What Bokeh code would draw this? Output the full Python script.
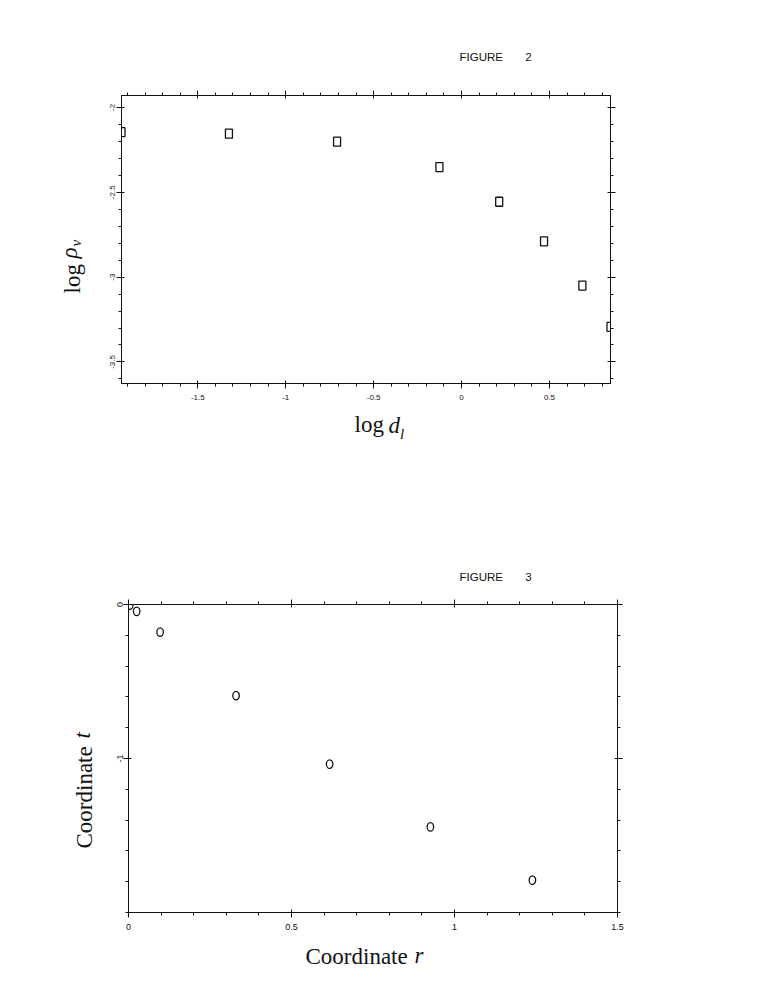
import math
from bokeh.plotting import figure
from bokeh.models import (Range1d, FixedTicker, LinearAxis, Title, Label,
                          CustomJSTickFormatter, ColumnDataSource)
from bokeh.embed import file_html
from bokeh.resources import INLINE

# ---------------- data: FIGURE 2 ----------------
log_dl = [-1.934, -1.323, -0.708, -0.126, 0.214, 0.469, 0.687, 0.847]
log_rho_v = [-2.146, -2.155, -2.202, -2.352, -2.556, -2.789, -3.050, -3.293]
fig2_x_ticks = [-1.5, -1.0, -0.5, 0.0, 0.5]
fig2_y_ticks = [-2.0, -2.5, -3.0, -3.5]
fig2_x_range = (-1.934, 0.847)
fig2_y_range = (-3.627, -1.930)

# ---------------- data: FIGURE 3 ----------------
coord_r = [0.004, 0.025, 0.097, 0.330, 0.617, 0.926, 1.239]
coord_t = [-0.004, -0.044, -0.179, -0.592, -1.037, -1.444, -1.790]
fig3_x_ticks = [0.0, 0.5, 1.0, 1.5]
fig3_y_ticks = [0.0, -1.0]
fig3_x_range = (0.0, 1.5)
fig3_y_range = (-2.0, 0.0)

INK = "#111111"
SANS = "Liberation Sans"
SERIF = "Liberation Serif"
NB = "\u00a0"


def minor(lo, hi, step):
    n = int(round((hi - lo) / step))
    return [round(lo + i * step, 3) for i in range(n + 1)]


def make_fig(xr, yr, ml, mt, mb, mr, fw, fh):
    p = figure(output_backend="svg", toolbar_location=None, title=None,
               x_range=Range1d(*xr), y_range=Range1d(*yr),
               frame_width=fw, frame_height=fh,
               min_border_left=ml, min_border_top=mt, min_border_bottom=mb,
               min_border_right=mr, x_axis_location=None, y_axis_location=None)
    p.grid.visible = False
    p.outline_line_color = INK
    p.outline_line_width = 1
    p.background_fill_color = "white"
    p.border_fill_color = "white"
    return p


def add_axes(p, xt, xm, yt, ym, fs, xstand, ystand):
    fmt = CustomJSTickFormatter(code="return String(tick);")
    common = dict(axis_line_color=INK, major_tick_line_color=INK,
                  minor_tick_line_color=INK, major_tick_in=3, major_tick_out=5,
                  minor_tick_in=0, minor_tick_out=3,
                  major_label_text_font=SANS, major_label_text_color=INK)
    xb = LinearAxis(ticker=FixedTicker(ticks=xt, minor_ticks=xm), formatter=fmt,
                    major_label_standoff=xstand, major_label_text_font_size=fs,
                    **common)
    xa = LinearAxis(ticker=FixedTicker(ticks=xt, minor_ticks=xm), formatter=fmt,
                    major_label_standoff=0, major_label_text_font_size="1px",
                    **common)
    xa.major_label_text_color = None
    yl = LinearAxis(ticker=FixedTicker(ticks=yt, minor_ticks=ym), formatter=fmt,
                    major_label_standoff=ystand, major_label_orientation="vertical",
                    major_label_text_font_size=fs, **common)
    yr_ = LinearAxis(ticker=FixedTicker(ticks=yt, minor_ticks=ym), formatter=fmt,
                     major_label_standoff=0, major_label_text_font_size="1px",
                     **common)
    yr_.major_label_text_color = None
    p.add_layout(xb, "below")
    p.add_layout(xa, "above")
    p.add_layout(yl, "left")
    p.add_layout(yr_, "right")


def title(p, side, text, offset, standoff, size="23px", font=SERIF):
    p.add_layout(Title(text=text, align="left", offset=offset, standoff=standoff,
                       text_font=font, text_font_size=size,
                       text_font_style="normal", text_color=INK), side)


def italic_label(p, x, y, text, size="23px", angle=0.0):
    # placed through the right-hand side panel so it is not clipped by the frame
    p.add_layout(Label(x=x, y=y, x_units="screen", y_units="screen", text=text,
                       text_font=SERIF, text_font_size=size,
                       text_font_style="italic", text_color=INK,
                       text_align="left", text_baseline="bottom",
                       angle=angle), "right")


# ---------------- FIGURE 2 ----------------
p1 = make_fig(fig2_x_range, fig2_y_range, ml=121, mt=95, mb=110, mr=27,
              fw=489, fh=288)
add_axes(p1, fig2_x_ticks, minor(-1.9, 0.8, 0.1), fig2_y_ticks,
         minor(-3.6, -2.0, 0.1), "8px", 6, 1)
src1 = ColumnDataSource(dict(x=log_dl, y=log_rho_v))
p1.rect(x="x", y="y", width=7, height=9, width_units="screen",
        height_units="screen", fill_color=None, line_color=INK,
        line_width=1.3, source=src1)
title(p1, "left", "log", 90, 45)
title(p1, "below", "log", 233, 15)
title(p1, "above", "FIGURE" + NB * 7 + "2", 338, 56, size="11.5px", font=SANS)
italic_label(p1, -534, 125, "ρ", angle=math.pi / 2)
italic_label(p1, -557, 137, "v", size="15px", angle=math.pi / 2)
italic_label(p1, -268, -54.5, "d")
italic_label(p1, -268.5, -58.5, "l", size="15px")

# ---------------- FIGURE 3 ----------------
p2 = make_fig(fig3_x_range, fig3_y_range, ml=128, mt=111, mb=60, mr=20,
              fw=489, fh=308)
add_axes(p2, fig3_x_ticks, minor(0.0, 1.5, 0.1), fig3_y_ticks,
         minor(-2.0, 0.0, 0.2), "9px", 6, 1)
src2 = ColumnDataSource(dict(x=coord_r, y=coord_t))
p2.ellipse(x="x", y="y", width=6.5, height=8.5, width_units="screen",
           height_units="screen", fill_color=None, line_color=INK,
           line_width=1.3, source=src2)
title(p2, "left", "Coordinate", 64, 33)
title(p2, "below", "Coordinate", 177, 18)
title(p2, "above", "FIGURE" + NB * 7 + "3", 331, 34, size="11.5px", font=SANS)
italic_label(p2, -528, 174, "t", angle=math.pi / 2)
italic_label(p2, -233, -55, "r")

open("out.html", "w").write(file_html([p1, p2], INLINE))
